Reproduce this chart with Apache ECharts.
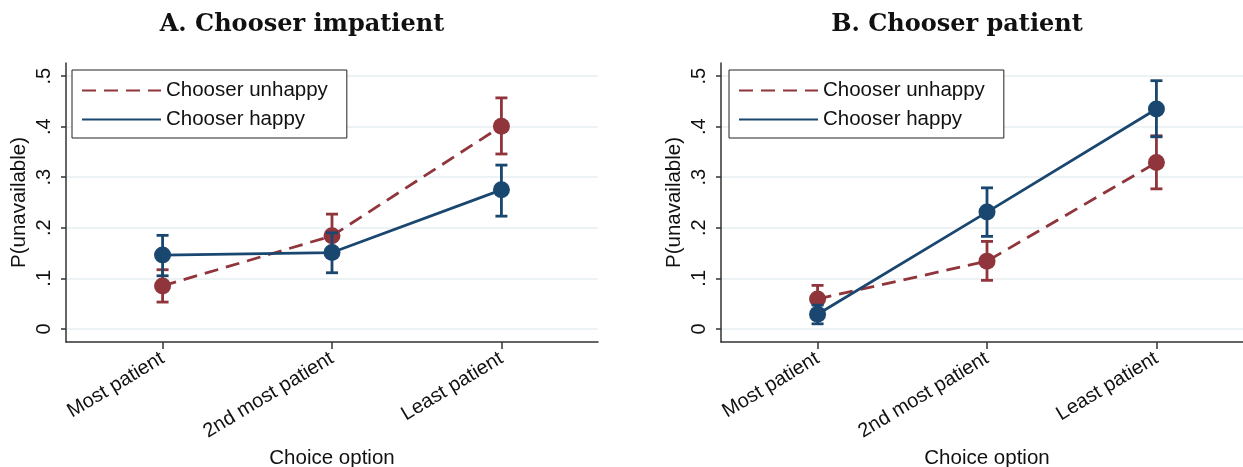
<!DOCTYPE html>
<html>
<head>
<meta charset="utf-8">
<script src="https://cdn.jsdelivr.net/npm/echarts@6/dist/echarts.min.js"></script>
<style>
html,body{margin:0;padding:0;background:#fff;}
#chart{width:1243px;height:467px;}
</style>
</head>
<body>
<div id="chart"></div>
<script>
// ---- data ----
const categories = ['Most patient', '2nd most patient', 'Least patient'];
const panelTitles = ['A. Chooser impatient', 'B. Chooser patient'];
const seriesNames = ['Chooser unhappy', 'Chooser happy'];
const yTickValues = [0, 0.1, 0.2, 0.3, 0.4, 0.5];
const yTickLabels = ['0', '.1', '.2', '.3', '.4', '.5'];

// Panel A: chooser impatient
const aUnhappy   = [0.085, 0.184, 0.401];
const aUnhappyLo = [0.053, 0.142, 0.346];
const aUnhappyHi = [0.117, 0.227, 0.457];
const aHappy     = [0.146, 0.151, 0.275];
const aHappyLo   = [0.105, 0.111, 0.223];
const aHappyHi   = [0.185, 0.190, 0.324];

// Panel B: chooser patient
const bUnhappy   = [0.059, 0.134, 0.329];
const bUnhappyLo = [0.033, 0.096, 0.277];
const bUnhappyHi = [0.086, 0.173, 0.382];
const bHappy     = [0.029, 0.231, 0.435];
const bHappyLo   = [0.010, 0.183, 0.380];
const bHappyHi   = [0.047, 0.279, 0.491];

// ---- styling ----
const RED = '#90353b';
const BLUE = '#1a476f';
const SANS = '"Liberation Sans", Arial, Helvetica, sans-serif';
const FS = 20.5;
const FS_TICK = 20;

const chart = echarts.init(document.getElementById('chart'), null, {renderer: 'canvas'});

function pts(vals) { return vals.map((v, i) => [i + 1, v]); }
function ci(lo, hi) { return lo.map((l, i) => [i + 1, l, hi[i]]); }

function errRender(color) {
  return function (params, api) {
    const x = api.value(0), lo = api.value(1), hi = api.value(2);
    const pLo = api.coord([x, lo]);
    const pHi = api.coord([x, hi]);
    const w = 6;
    const style = {stroke: color, lineWidth: 2.8, fill: null};
    return {
      type: 'group',
      children: [
        {type: 'line', shape: {x1: pLo[0], y1: pLo[1], x2: pHi[0], y2: pHi[1]}, style: style},
        {type: 'line', shape: {x1: pLo[0] - w, y1: pLo[1], x2: pLo[0] + w, y2: pLo[1]}, style: style},
        {type: 'line', shape: {x1: pHi[0] - w, y1: pHi[1], x2: pHi[0] + w, y2: pHi[1]}, style: style}
      ]
    };
  };
}

const grids = [
  {left: 66, top: 63, width: 532, height: 279, outerBoundsMode: 'none', containLabel: false},
  {left: 721, top: 63, width: 532, height: 279, outerBoundsMode: 'none', containLabel: false}
];

function xAxisFor(i) {
  return {
    type: 'value', gridIndex: i, min: 0.43, max: 3.57,
    name: 'Choice option', nameLocation: 'middle', nameGap: 97,
    nameTextStyle: {fontFamily: SANS, fontSize: FS, color: '#111'},
    axisLine: {show: true, onZero: false, lineStyle: {color: '#333', width: 1.5}},
    axisTick: {show: true, customValues: [1, 2, 3], length: 7, lineStyle: {color: '#333', width: 1.5}},
    axisLabel: {
      customValues: [1, 2, 3], rotate: 31, margin: 15,
      fontFamily: SANS, fontSize: FS_TICK, color: '#111',
      formatter: v => categories[Math.round(v) - 1]
    },
    splitLine: {show: false}
  };
}
function yAxisFor(i) {
  return {
    type: 'value', gridIndex: i, min: -0.026, max: 0.526,
    name: 'P(unavailable)', nameLocation: 'middle', nameGap: 36,
    nameTextStyle: {fontFamily: SANS, fontSize: FS, color: '#111'},
    axisLine: {show: true, onZero: false, lineStyle: {color: '#333', width: 1.5}},
    axisTick: {show: true, customValues: yTickValues, length: 5, lineStyle: {color: '#333', width: 1.5}},
    axisLabel: {
      customValues: yTickValues, rotate: 90, margin: 12,
      fontFamily: SANS, fontSize: FS_TICK, color: '#111',
      formatter: v => yTickLabels[Math.round(v * 10)]
    },
    splitLine: {show: true, lineStyle: {color: '#e7eef1', width: 1.6}}
  };
}

function panelSeries(i, unh, unhLo, unhHi, hap, hapLo, hapHi) {
  return [
    {name: seriesNames[0], type: 'line', xAxisIndex: i, yAxisIndex: i, data: pts(unh),
     symbol: 'none', lineStyle: {color: RED, width: 2.8, type: [14, 8]}, itemStyle: {color: RED}, z: 2, animation: false},
    {name: 'unhappy-mark', type: 'scatter', xAxisIndex: i, yAxisIndex: i, data: pts(unh),
     symbol: 'circle', symbolSize: 17, itemStyle: {color: RED, opacity: 1}, z: 3, animation: false},
    {name: 'unhappy-ci', type: 'custom', xAxisIndex: i, yAxisIndex: i, data: ci(unhLo, unhHi),
     encode: {x: 0, y: [1, 2]}, renderItem: errRender(RED), z: 4, animation: false},
    {name: seriesNames[1], type: 'line', xAxisIndex: i, yAxisIndex: i, data: pts(hap),
     symbol: 'none', lineStyle: {color: BLUE, width: 2.8}, itemStyle: {color: BLUE}, z: 5, animation: false},
    {name: 'happy-mark', type: 'scatter', xAxisIndex: i, yAxisIndex: i, data: pts(hap),
     symbol: 'circle', symbolSize: 17, itemStyle: {color: BLUE, opacity: 1}, z: 6, animation: false},
    {name: 'happy-ci', type: 'custom', xAxisIndex: i, yAxisIndex: i, data: ci(hapLo, hapHi),
     encode: {x: 0, y: [1, 2]}, renderItem: errRender(BLUE), z: 7, animation: false}
  ];
}

function legendFor(left) {
  return {
    data: seriesNames, left: left, top: 70, orient: 'vertical',
    itemWidth: 79, itemHeight: 19, itemGap: 8,
    padding: [10, 19, 8, 9],
    backgroundColor: '#fff', borderColor: '#222', borderWidth: 1,
    itemStyle: {opacity: 0},
    textStyle: {fontFamily: SANS, fontSize: FS, color: '#111'},
    selectedMode: false, z: 10
  };
}

const TITLE_FONT = {fontFamily: '"DejaVu Serif", "Liberation Serif", serif', fontWeight: 'bold', fontSize: 24, color: '#111'};

const option = {
  animation: false,
  backgroundColor: '#fff',
  title: [
    {text: panelTitles[0], left: 302, top: 13, textAlign: 'center', padding: 0, textStyle: TITLE_FONT},
    {text: panelTitles[1], left: 957, top: 13, textAlign: 'center', padding: 0, textStyle: TITLE_FONT}
  ],
  legend: [legendFor(72), legendFor(729)],
  grid: grids,
  xAxis: [xAxisFor(0), xAxisFor(1)],
  yAxis: [yAxisFor(0), yAxisFor(1)],
  series: [].concat(
    panelSeries(0, aUnhappy, aUnhappyLo, aUnhappyHi, aHappy, aHappyLo, aHappyHi),
    panelSeries(1, bUnhappy, bUnhappyLo, bUnhappyHi, bHappy, bHappyLo, bHappyHi)
  )
};
chart.setOption(option);
</script>
</body>
</html>
